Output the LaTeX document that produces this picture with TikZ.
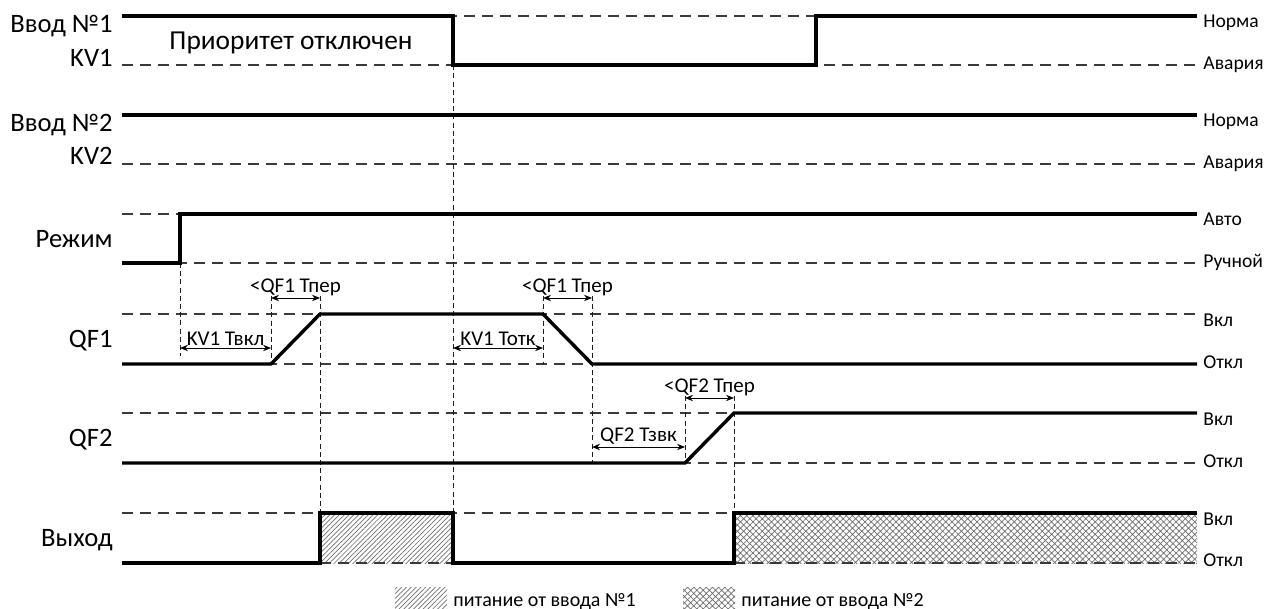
\documentclass[tikz,border=0pt]{standalone}
\usepackage{fontspec}
\setmainfont{Carlito}
\usetikzlibrary{arrows.meta, patterns.meta}
\definecolor{cLevel}{HTML}{3A3A3A}
\definecolor{cMark}{HTML}{1E1E1E}
\definecolor{cHatch}{HTML}{6E6E6E}

\begin{document}
\begin{tikzpicture}[x=0.5pt, y=-0.5pt,
    sig/.style={line width=1.7pt, line join=miter},
    lvl/.style={cLevel, line width=0.7pt, dash pattern=on 5.5pt off 3.5pt},
    tmark/.style={cMark, line width=0.5pt, dash pattern=on 2.5pt off 1.6pt},
    dim/.style={{Stealth[length=4pt,width=3.2pt]}-{Stealth[length=4pt,width=3.2pt]}, line width=0.5pt},
    dimlbl/.style={font=\fontsize{10.5}{12}\selectfont, inner sep=1pt, above},
    signame/.style={font=\fontsize{13.3}{15}\selectfont, anchor=base east, inner sep=0pt},
    state/.style={font=\fontsize{9.8}{11}\selectfont, anchor=base west, inner sep=0pt},
    legend/.style={font=\fontsize{10}{12}\selectfont, anchor=base west, inner sep=0pt}]

    \useasboundingbox (0,0) rectangle (1268,609);

    \fill[pattern={Lines[angle=45, distance=1.7pt, line width=0.35pt]}, pattern color=cHatch] (320,513) rectangle (453,563);
    \fill[pattern={Hatch[angle=45, distance=2.2pt, line width=0.35pt]}, pattern color=cHatch] (734,513) rectangle (1197,563);

    \foreach \hi/\lo in {16/65, 115/164, 214/263, 314/364, 413/463, 513/563} {
      \draw[lvl] (122,\hi) -- (1197,\hi);
      \draw[lvl] (122,\lo) -- (1197,\lo);
    }

    \foreach \x/\ya/\yb in {180/263/356, 271/296/364, 320/296/513, 453/16/513, 543/296/364, 592/296/463, 685/396/463, 734/396/513}
      \draw[tmark] (\x,\ya) -- (\x,\yb);

    \draw[sig] (122,16) -- (453,16) -- (453,65) -- (816,65) -- (816,16) -- (1197,16);
    \draw[sig] (122,115) -- (1197,115);
    \draw[sig] (122,263) -- (180,263) -- (180,214) -- (1197,214);
    \draw[sig] (122,364) -- (271,364) -- (320,314) -- (543,314) -- (592,364) -- (1197,364);
    \draw[sig] (122,463) -- (685,463) -- (734,413) -- (1197,413);
    \draw[sig] (122,563) -- (320,563) -- (320,513) -- (453,513) -- (453,563) -- (734,563) -- (734,513) -- (1197,513);

    \node[signame] (nIn1) at (113,33) {Ввод №1};
    \node[signame] (nKV1) at (113,67) {KV1};
    \node[signame] (nIn2) at (113,132) {Ввод №2};
    \node[signame] (nKV2) at (113,165) {KV2};
    \node[signame] (nMode) at (113,248) {Режим};
    \node[signame] (nQF1) at (113,347) {QF1};
    \node[signame] (nQF2) at (113,446) {QF2};
    \node[signame] (nOut) at (113,546) {Выход};

    \node[font=\fontsize{13.7}{15}\selectfont, anchor=base, inner sep=0pt] (prio) at (291,50) {Приоритет отключен};

    \node[state] (sNorm1) at (1203,28) {Норма};
    \node[state] (sFail1) at (1203,70) {Авария};
    \node[state] (sNorm2) at (1203,127) {Норма};
    \node[state] (sFail2) at (1203,169) {Авария};
    \node[state] (sAuto) at (1203,226) {Авто};
    \node[state] (sMan) at (1203,268) {Ручной};
    \node[state] (sOn1) at (1203,326) {Вкл};
    \node[state] (sOff1) at (1203,368) {Откл};
    \node[state] (sOn2) at (1203,425) {Вкл};
    \node[state] (sOff2) at (1203,467) {Откл};
    \node[state] (sOn3) at (1203,525) {Вкл};
    \node[state] (sOff3) at (1203,566) {Откл};

    \coordinate (kvOnA) at (180,348);
    \coordinate (kvOnB) at (271,348);
    \coordinate (qfOneA) at (271,298);
    \coordinate (qfOneB) at (320,298);
    \coordinate (kvOffA) at (453,348);
    \coordinate (kvOffB) at (543,348);
    \coordinate (qfTwoA) at (543,298);
    \coordinate (qfTwoB) at (592,298);
    \coordinate (qfDelA) at (592,447);
    \coordinate (qfDelB) at (685,447);
    \coordinate (qfTrA) at (685,398);
    \coordinate (qfTrB) at (734,398);

    \draw[dim] (kvOnA) -- node[dimlbl] (lKvOn) {KV1 Твкл} (kvOnB);
    \draw[dim] (qfOneA) -- node[dimlbl] (lQfOne) {<QF1 Тпер} (qfOneB);
    \draw[dim] (kvOffA) -- node[dimlbl] (lKvOff) {KV1 Тотк} (kvOffB);
    \draw[dim] (qfTwoA) -- node[dimlbl] (lQfTwo) {<QF1 Тпер} (qfTwoB);
    \draw[dim] (qfDelA) -- node[dimlbl] (lQfDel) {QF2 Тзвк} (qfDelB);
    \draw[dim] (qfTrA) -- node[dimlbl] (lQfTr) {<QF2 Тпер} (qfTrB);

    \fill[pattern={Lines[angle=45, distance=1.7pt, line width=0.35pt]}, pattern color=cHatch] (395,587) rectangle (447,608);
    \node[legend] (lgOne) at (453,606) {питание от ввода №1};
    \fill[pattern={Hatch[angle=45, distance=2.2pt, line width=0.35pt]}, pattern color=cHatch] (683,587) rectangle (735,608);
    \node[legend] (lgTwo) at (741,606) {питание от ввода №2};
\end{tikzpicture}
\end{document}
